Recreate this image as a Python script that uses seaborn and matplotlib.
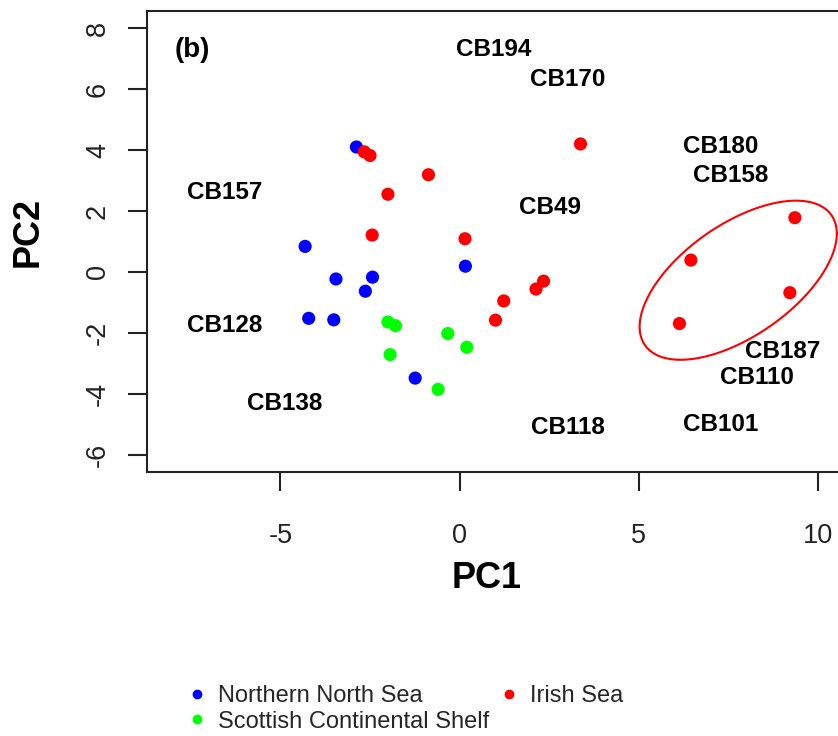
import numpy as np
import pandas as pd
import matplotlib
matplotlib.use("Agg")
import matplotlib.pyplot as plt
import seaborn as sns
from matplotlib.lines import Line2D

# ---------------- data ----------------
nns_pc1 = [-2.88, -4.31, -3.45, -2.43, -2.63, -4.21, -3.51, 0.16, -1.24]
nns_pc2 = [4.10, 0.84, -0.23, -0.17, -0.63, -1.52, -1.57, 0.19, -3.48]

scs_pc1 = [-2.00, -1.79, -0.33, 0.20, -1.94, -0.60]
scs_pc2 = [-1.64, -1.76, -2.02, -2.47, -2.71, -3.85]

irish_pc1 = [-2.66, -2.50, -0.87, -2.00, -2.44, 0.15, 3.37, 2.34, 2.13, 1.23,
             1.00, 9.35, 6.45, 9.21, 6.13]
irish_pc2 = [3.94, 3.82, 3.19, 2.55, 1.21, 1.09, 4.20, -0.30, -0.56, -0.95,
             -1.58, 1.78, 0.39, -0.68, -1.69]

regions = ["Northern North Sea", "Scottish Continental Shelf", "Irish Sea"]
region_colors = ["#0000FF", "#00FF00", "#FF0000"]

var_names = ["CB194", "CB170", "CB180", "CB158", "CB157", "CB49", "CB128",
             "CB187", "CB110", "CB138", "CB118", "CB101"]
var_pc1 = [0.96, 3.01, 7.28, 7.56, -6.56, 2.53, -6.56, 9.02, 8.28, -4.88, 3.01, 7.27]
var_pc2 = [7.31, 6.30, 4.11, 3.15, 2.61, 2.11, -1.74, -2.60, -3.47, -4.32, -5.10, -5.00]

x_ticks = [-5, 0, 5, 10]
y_ticks = [-6, -4, -2, 0, 2, 4, 6, 8]

# ellipse around the four outlying Irish Sea samples (centre, x-radius, y-shape)
ell_cx, ell_cy = 7.77, -0.27
ell_ax, ell_bx, ell_by = 2.75, 1.527, 2.116

# ---------------- frame ----------------
df = pd.DataFrame({
    "PC1": nns_pc1 + scs_pc1 + irish_pc1,
    "PC2": nns_pc2 + scs_pc2 + irish_pc2,
    "Region": [regions[0]] * len(nns_pc1) + [regions[1]] * len(scs_pc1)
              + [regions[2]] * len(irish_pc1),
})

sns.set_theme(style="ticks")
plt.rcParams['font.family'] = ['Liberation Sans', 'DejaVu Sans']

W, H = 838, 736
fig = plt.figure(figsize=(W / 100, H / 100), dpi=100)
L, R, T, B = 147, 844, 11, 472
ax = fig.add_axes([L / W, 1 - B / H, (R - L) / W, (B - T) / H])

pal = dict(zip(regions, region_colors))
sns.scatterplot(data=df, x="PC1", y="PC2", hue="Region", palette=pal,
                s=90, linewidth=0, legend=False, ax=ax, zorder=3)

# variable labels
for name, vx, vy in zip(var_names, var_pc1, var_pc2):
    ax.text(vx, vy, name, ha="center", va="center", fontsize=17.5,
            fontweight="bold", color="black")

ax.text(-7.95, 7.29, "(b)", ha="left", va="center", fontsize=20,
        fontweight="bold", color="black")

# ellipse
t = np.linspace(0, 2 * np.pi, 400)
ax.plot(ell_cx + ell_ax * np.cos(t),
        ell_cy + ell_bx * np.cos(t) + ell_by * np.sin(t),
        color="#FF0000", lw=1.5, zorder=2)

ax.set_xlim(-8.72, 10.72)
ax.set_ylim(-6.56, 8.56)
ax.set_xticks(x_ticks)
ax.set_yticks(y_ticks)
ax.set_xticklabels([str(v) for v in x_ticks])
ax.set_yticklabels([str(v) for v in y_ticks], rotation=90, va="center")
ax.tick_params(axis="both", direction="out", length=14, width=1.5,
               labelsize=19.5, colors="#222222", labelcolor="#222222")
ax.tick_params(axis="x", pad=23)
ax.tick_params(axis="y", pad=12)
for sp in ax.spines.values():
    sp.set_visible(True)
    sp.set_linewidth(1.5)
    sp.set_color("#222222")

ax.set_xlabel("PC1", fontsize=26, fontweight="bold", color="black")
ax.set_ylabel("PC2", fontsize=26, fontweight="bold", color="black")
ax.xaxis.set_label_coords((487 - L) / (R - L), (B - 579) / (B - T))
ax.xaxis.label.set_verticalalignment("center")
ax.yaxis.set_label_coords((28 - L) / (R - L), (B - 232) / (B - T))
ax.yaxis.label.set_verticalalignment("center")

# legend
handles = [Line2D([], [], ls="", marker="o", ms=6, mfc=c, mec=c)
           for c in region_colors]
fig.legend(handles, regions, ncol=2, loc="upper left",
           bbox_to_anchor=(190 / W, 1 - 685 / H), frameon=False,
           fontsize=17, handlelength=0.6, handletextpad=0.58,
           columnspacing=0.55, labelspacing=0.15, borderaxespad=0,
           borderpad=0)

fig.savefig("out.png", dpi=100)
